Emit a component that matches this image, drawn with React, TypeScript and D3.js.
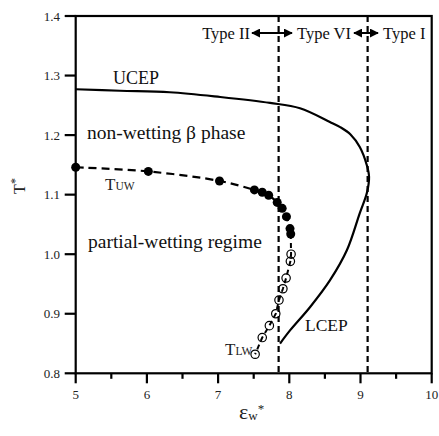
import { useEffect } from "react";
import * as d3 from "d3";

// coexistence curve (UCEP at top, LCEP at bottom), eps_w vs T*
const ceEps = [5.0, 5.62, 6.32, 7.03, 7.73, 8.15, 8.57, 8.72, 8.86, 8.99, 9.09, 9.12, 9.09, 8.99, 8.81, 8.57, 8.29, 8.01, 7.87];
const ceT = [1.277, 1.2745, 1.272, 1.264, 1.254, 1.245, 1.222, 1.213, 1.201, 1.18, 1.149, 1.13, 1.103, 1.069, 1.007, 0.956, 0.911, 0.872, 0.85];

// T_UW (filled)
const uwEps = [5.0, 6.02, 7.02, 7.51, 7.62, 7.71, 7.83, 7.9, 7.96, 8.01, 8.02];
const uwT = [1.146, 1.139, 1.123, 1.108, 1.104, 1.099, 1.087, 1.077, 1.063, 1.043, 1.034];

// T_LW (open)
const lwEps = [7.52, 7.62, 7.72, 7.81, 7.855, 7.91, 7.955, 8.015, 8.025];
const lwT = [0.832, 0.86, 0.88, 0.9, 0.923, 0.942, 0.96, 0.988, 1.0];

const xTicks = [5, 6, 7, 8, 9, 10];
const xMinor = [5.5, 6.5, 7.5, 8.5, 9.5];
const yTicks = [0.8, 0.9, 1.0, 1.1, 1.2, 1.3, 1.4];
const boundaries = [7.85, 9.1];

const W = 439, H = 436;
const left = 75.7, right = 431.7, top = 16, bottom = 373.3;
const FONT = "Liberation Serif";

const App = () => {
  useEffect(() => {
    document.body.style.margin = "0";
  }, []);

  const x = d3.scaleLinear().domain([5, 10]).range([left, right]);
  const y = d3.scaleLinear().domain([0.8, 1.4]).range([bottom, top]);

  const ce = ceEps.map((e, i) => [e, ceT[i]] as [number, number]);
  const uw = uwEps.map((e, i) => [e, uwT[i]] as [number, number]);
  const lw = lwEps.map((e, i) => [e, lwT[i]] as [number, number]);

  const line = d3.line<[number, number]>().x(d => x(d[0])).y(d => y(d[1]));
  const smooth = d3.line<[number, number]>().x(d => x(d[0])).y(d => y(d[1])).curve(d3.curveCatmullRom.alpha(0.5));

  const arrowY = 33;

  return (
    <svg width={W} height={H} style={{ display: "block", background: "#fff" }} fontFamily={FONT}>
      <defs>
        <marker id="ah" viewBox="0 0 10 10" refX="9" refY="5" markerWidth="4.5" markerHeight="4.5" orient="auto-start-reverse" markerUnits="strokeWidth">
          <path d="M0,0 L10,5 L0,10 z" fill="#000" />
        </marker>
      </defs>

      {/* boundaries between types */}
      {boundaries.map(b => (
        <line key={b} x1={x(b)} x2={x(b)} y1={top} y2={bottom} stroke="#000" strokeWidth={2.2} strokeDasharray="6,4" />
      ))}

      {/* coexistence curve */}
      <path d={smooth(ce) || ""} fill="none" stroke="#000" strokeWidth={2.2} />

      {/* T_UW */}
      <path d={smooth(uw) || ""} fill="none" stroke="#000" strokeWidth={2.2} strokeDasharray="8,5" />
      {uw.map((d, i) => (
        <circle key={i} cx={x(d[0])} cy={y(d[1])} r={4.5} fill="#000" />
      ))}

      {/* T_LW */}
      <path d={line([uw[uw.length - 1], ...lw.slice().reverse()]) || ""} fill="none" stroke="#000" strokeWidth={2} strokeDasharray="5,4" />
      {lw.map((d, i) => (
        <circle key={i} cx={x(d[0])} cy={y(d[1])} r={4.2} fill="none" stroke="#000" strokeWidth={1.2} />
      ))}

      {/* frame */}
      <rect x={left} y={top} width={right - left} height={bottom - top} fill="none" stroke="#000" strokeWidth={2.2} />

      {/* x axis ticks */}
      {xTicks.map(t => (
        <g key={t}>
          <line x1={x(t)} x2={x(t)} y1={bottom} y2={bottom + 10} stroke="#000" strokeWidth={2.2} />
          <text x={x(t)} y={399} fontSize={13} textAnchor="middle" fill="#222">{t}</text>
        </g>
      ))}
      {xMinor.map(t => (
        <line key={t} x1={x(t)} x2={x(t)} y1={bottom} y2={bottom + 5.5} stroke="#000" strokeWidth={2.2} />
      ))}

      {/* y axis ticks */}
      {yTicks.map(t => (
        <g key={t}>
          <line x1={left - 11} x2={left} y1={y(t)} y2={y(t)} stroke="#000" strokeWidth={2.2} />
          <text x={60} y={y(t) + 4.5} fontSize={13} textAnchor="end" fill="#222">{d3.format(".1f")(t)}</text>
        </g>
      ))}

      {/* axis titles */}
      <text x={239} y={419} fill="#222">
        <tspan fontSize={22}>ε</tspan>
        <tspan fontSize={13} dy={1}>w</tspan>
        <tspan fontSize={13} dy={-7}>*</tspan>
      </text>
      <text transform="translate(25,186) rotate(-90)" textAnchor="middle" fill="#222" fontSize={16}>
        T<tspan fontSize={12} dy={-6}>*</tspan>
      </text>

      {/* type labels */}
      <text x={250} y={39} fontSize={16.5} textAnchor="end" fill="#111">Type II</text>
      <text x={297} y={39} fontSize={16.5} fill="#111">Type VI</text>
      <text x={383} y={39} fontSize={16.5} fill="#111">Type I</text>
      <line x1={252} x2={292} y1={arrowY} y2={arrowY} stroke="#000" strokeWidth={2} markerStart="url(#ah)" markerEnd="url(#ah)" />
      <line x1={354} x2={378} y1={arrowY} y2={arrowY} stroke="#000" strokeWidth={2} markerStart="url(#ah)" markerEnd="url(#ah)" />

      {/* annotations */}
      <text x={113} y={84} fontSize={18} fill="#111">UCEP</text>
      <text x={305} y={331} fontSize={17.5} fill="#111">LCEP</text>
      <text x={87} y={139} fontSize={19.5} fill="#111">non-wetting β phase</text>
      <text x={88} y={248} fontSize={19.5} fill="#111">partial-wetting regime</text>
      <text x={105} y={190} fill="#222">
        <tspan fontSize={17}>T</tspan>
        <tspan fontSize={11.5}>UW</tspan>
      </text>
      <text x={225} y={355} fill="#222">
        <tspan fontSize={17}>T</tspan>
        <tspan fontSize={11.5}>LW</tspan>
      </text>
    </svg>
  );
};

export default App;
